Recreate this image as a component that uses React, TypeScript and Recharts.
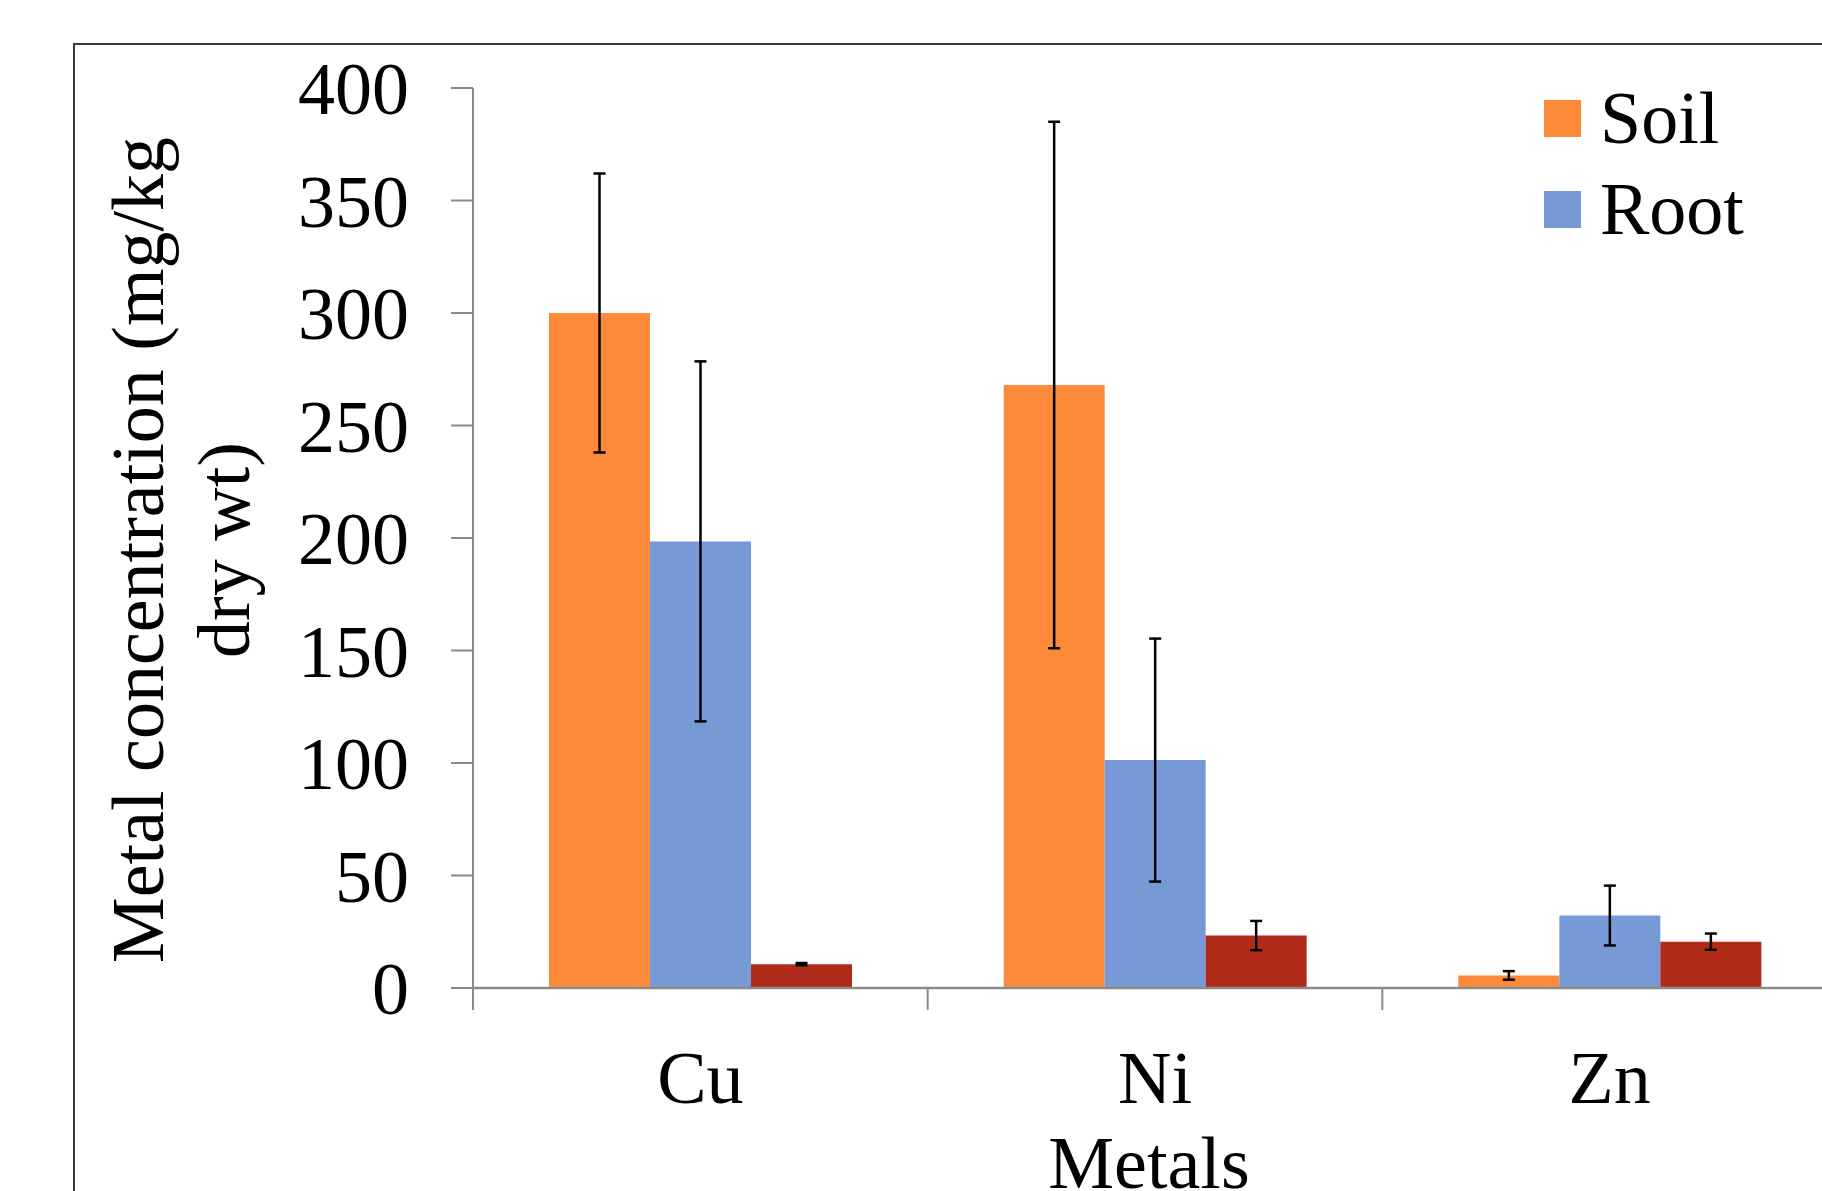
import { BarChart, Bar, XAxis, YAxis, ErrorBar, Legend, Label } from "recharts";

const categories = ["Cu", "Ni", "Zn"];
const soil = [300, 268, 5.6];
const soilErr = [62, 117, 1.9];
const root = [198.5, 101.3, 32.2];
const rootErr = [80, 54, 13.3];
const shoot = [10.6, 23.3, 20.6];
const shootErr = [0.5, 6.5, 3.6];
const yTicks = [0, 50, 100, 150, 200, 250, 300, 350, 400];
const legendOrder = ["Soil", "Root"];

const FONT = "'Liberation Serif', 'Times New Roman', serif";
const FS = 74;
const AXIS_GRAY = "#8a8a8a";

const COLORS = {
  soil: "#fd8a38",
  root: "#779ad7",
  shoot: "#b12c18",
};

const chartData = categories.map((name, i) => ({
  name,
  soil: soil[i],
  soilErr: soilErr[i],
  root: root[i],
  rootErr: rootErr[i],
  shoot: shoot[i],
  shootErr: shootErr[i],
}));

// Excel puts the category ticks between groups, so draw them half a band to the left
const CategoryTick = (props: any) => {
  const { x, y, payload } = props;
  const half = payload?.offset ?? 227;
  return (
    <g>
      <line x1={x - half} y1={y} x2={x - half} y2={y + 22} stroke={AXIS_GRAY} strokeWidth={2} />
      <text x={x} y={y + 115} textAnchor="middle" fontFamily={FONT} fontSize={FS} fill="#000">
        {payload.value}
      </text>
    </g>
  );
};

const YTitle = (props: any) => {
  const vb = props.viewBox || { x: 0, y: 88, width: 473, height: 900 };
  const cy = vb.y + vb.height / 2 + 12;
  const x1 = vb.x + 163;
  const x2 = vb.x + 249;
  return (
    <g fontFamily={FONT} fontSize={FS} fill="#000">
      <text x={x1} y={cy} textAnchor="middle" transform={`rotate(-90, ${x1}, ${cy})`}>
        Metal concentration (mg/kg
      </text>
      <text x={x2} y={cy} textAnchor="middle" transform={`rotate(-90, ${x2}, ${cy})`}>
        dry wt)
      </text>
    </g>
  );
};

const XTitle = (props: any) => {
  const vb = props.viewBox || { x: 473, y: 988, width: 1364, height: 203 };
  return (
    <text
      x={vb.x + vb.width / 2 - 6}
      y={vb.y + 200}
      textAnchor="middle"
      fontFamily={FONT}
      fontSize={FS}
      fill="#000"
    >
      Metals
    </text>
  );
};

const renderLegend = (props: any) => {
  const items = (props.payload || [])
    .filter((p: any) => legendOrder.includes(p.value))
    .sort((a: any, b: any) => legendOrder.indexOf(a.value) - legendOrder.indexOf(b.value));
  return (
    <div style={{ fontFamily: FONT, fontSize: FS, color: "#000" }}>
      {items.map((item: any) => (
        <div
          key={item.value}
          style={{ display: "flex", alignItems: "center", height: 74, lineHeight: 1, marginBottom: 17 }}
        >
          <span style={{ display: "inline-block", width: 37, height: 37, background: item.color }} />
          <span style={{ marginLeft: 19, whiteSpace: "nowrap" }}>{item.value}</span>
        </div>
      ))}
    </div>
  );
};

export default function App() {
  return (
    <div
      style={{
        position: "fixed",
        left: 0,
        top: 0,
        width: 1822,
        height: 1191,
        overflow: "hidden",
        background: "#fff",
      }}
    >
      <div
        style={{
          position: "absolute",
          left: 73,
          top: 43,
          width: 2000,
          height: 2000,
          borderLeft: "2px solid #3a3a3a",
          borderTop: "2.5px solid #3a3a3a",
        }}
      />
      <div style={{ position: "absolute", left: 0, top: 0 }}>
        <BarChart
          width={1857}
          height={1191}
          data={chartData}
          margin={{ top: 88, right: 20, left: 0, bottom: 0 }}
          barGap={0}
          barSize={101}
        >
          <XAxis
            dataKey="name"
            height={203}
            axisLine={{ stroke: AXIS_GRAY, strokeWidth: 2.5 }}
            tickLine={false}
            tickSize={0}
            tickMargin={0}
            tick={<CategoryTick />}
            interval={0}
          >
            <Label content={<XTitle />} />
          </XAxis>
          <YAxis
            width={473}
            domain={[0, 400]}
            ticks={yTicks}
            interval={0}
            axisLine={{ stroke: AXIS_GRAY, strokeWidth: 2 }}
            tickLine={{ stroke: AXIS_GRAY, strokeWidth: 2 }}
            tickSize={22}
            tickMargin={42}
            tick={{ fontFamily: FONT, fontSize: FS, fill: "#000" }}
          >
            <Label content={<YTitle />} />
          </YAxis>
          <Legend
            verticalAlign="middle"
            align="center"
            layout="horizontal"
            content={renderLegend}
            wrapperStyle={{ position: "absolute", left: 1544, top: 81, width: 300, right: "auto", bottom: "auto" }}
          />
          <Bar dataKey="soil" name="Soil" fill={COLORS.soil} isAnimationActive={false}>
            <ErrorBar dataKey="soilErr" width={6} strokeWidth={2.5} stroke="#000" />
          </Bar>
          <Bar dataKey="root" name="Root" fill={COLORS.root} isAnimationActive={false}>
            <ErrorBar dataKey="rootErr" width={6} strokeWidth={2.5} stroke="#000" />
          </Bar>
          <Bar dataKey="shoot" name="Shoot" fill={COLORS.shoot} legendType="none" isAnimationActive={false}>
            <ErrorBar dataKey="shootErr" width={6} strokeWidth={2.5} stroke="#000" />
          </Bar>
        </BarChart>
      </div>
    </div>
  );
}
